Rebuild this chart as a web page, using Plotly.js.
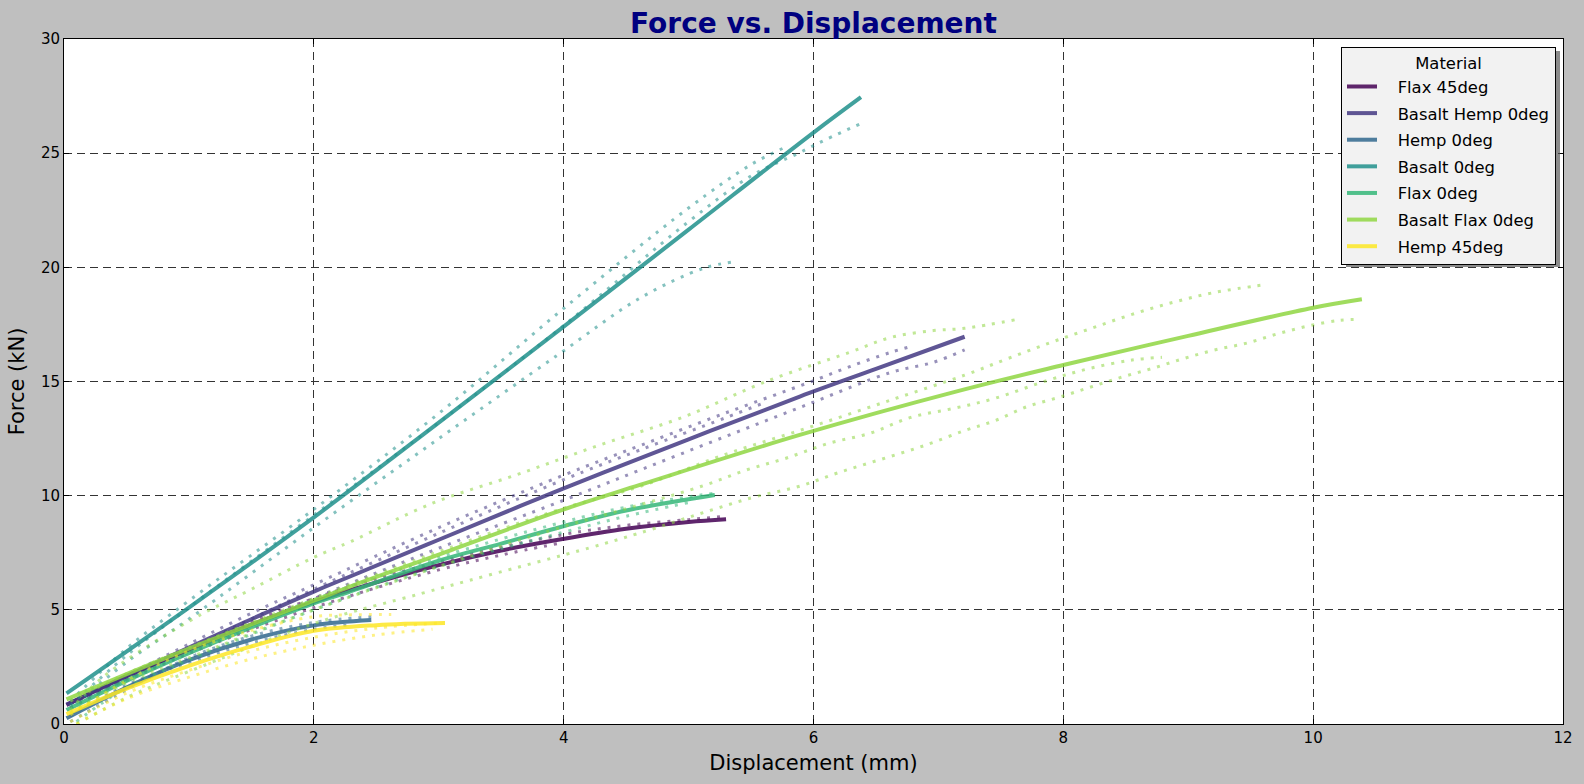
<!DOCTYPE html>
<html>
<head>
<meta charset="utf-8">
<script src="https://cdn.plot.ly/plotly-3.0.1.min.js"></script>
<style>
  html, body { margin: 0; padding: 0; background: #bfbfbf; }
  #plotly-chart { width: 1584px; height: 784px; }
</style>
</head>
<body>
<div id="plotly-chart"></div>
<script>
const materials = ['Flax 45deg', 'Basalt Hemp 0deg', 'Hemp 0deg', 'Basalt 0deg', 'Flax 0deg', 'Basalt Flax 0deg', 'Hemp 45deg'];
const colors = ['#440154', '#443983', '#31688e', '#21918c', '#35b779', '#90d743', '#fde725'];

// fitted curves (solid)
const flax45FitX = [0.02, 0.5, 1, 1.5, 2, 2.29, 3, 3.5, 3.99, 4.5, 5.0, 5.3];
const flax45FitY = [0.83, 2.1, 3.25, 4.35, 5.35, 5.86, 6.96, 7.6, 8.1, 8.55, 8.85, 8.97];
const basaltHempFitX = [0.02, 1, 2, 2.29, 3, 4, 5, 5.89, 6.5, 7.21];
const basaltHempFitY = [0.85, 3.35, 5.8, 6.46, 8.07, 10.32, 12.47, 14.34, 15.55, 16.96];
const hemp0FitX = [0.02, 0.5, 1, 1.5, 2, 2.46];
const hemp0FitY = [0.25, 1.6, 2.8, 3.7, 4.32, 4.55];
const basalt0FitX = [0.02, 1, 2, 3, 4, 5, 6, 6.38];
const basalt0FitY = [1.34, 5.1, 9.05, 13.2, 17.4, 21.65, 25.9, 27.45];
const flax0FitX = [0.02, 0.5, 1, 1.5, 2, 2.29, 3, 3.5, 3.99, 4.5, 5.21];
const flax0FitY = [0.61, 1.89, 3.1, 4.23, 5.28, 5.8, 7.15, 7.9, 8.65, 9.35, 10.03];
const basaltFlaxFitX = [0.02, 1, 2, 2.29, 3, 3.99, 4.61, 5.89, 7.17, 8, 9, 10, 10.39];
const basaltFlaxFitY = [1.08, 3.3, 5.4, 6.02, 7.42, 9.38, 10.47, 12.66, 14.6, 15.72, 17.0, 18.23, 18.6];
const hemp45FitX = [0.02, 0.5, 1, 1.5, 2, 2.5, 3.05];
const hemp45FitY = [0.43, 1.55, 2.55, 3.4, 4.08, 4.33, 4.42];

// raw specimen curves (dotted)
const flax45RawX = [
    [0.05, 1, 2, 3, 4, 4.5, 5, 5.3],
    [0.05, 1, 2, 3, 3.5, 3.95],
];
const flax45RawY = [
    [0.7, 3.3, 5.5, 7.1, 8.3, 8.7, 8.95, 9.1],
    [0.95, 3.1, 5.1, 6.75, 7.4, 7.9],
];
const basaltHempRawX = [
    [0.05, 0.5, 1, 1.5, 2, 3, 4, 4.61, 5.29, 5.96, 6.29, 6.62, 6.79],
    [0.05, 0.5, 1, 1.5, 2, 3, 4, 4.61, 5.29, 5.62],
    [0.05, 0.5, 1, 2, 3, 4, 4.61, 5.29, 5.96, 6.62, 6.96, 7.21],
];
const basaltHempRawY = [
    [0.7, 2.1, 3.5, 4.85, 6.1, 8.6, 10.9, 12.19, 13.61, 14.95, 15.65, 16.28, 16.55],
    [0.9, 2.0, 3.3, 4.6, 5.9, 8.35, 10.7, 12.0, 13.4, 14.1],
    [0.9, 1.9, 3.1, 5.5, 7.7, 9.8, 11.12, 12.58, 14.01, 15.4, 15.84, 16.38],
];
const hemp0RawX = [
    [0.05, 0.5, 1, 1.5, 2, 2.46],
    [0.05, 0.5, 1, 1.5, 2, 2.3],
];
const hemp0RawY = [
    [0.1, 1.5, 2.9, 3.85, 4.45, 4.7],
    [0.35, 1.7, 2.7, 3.55, 4.15, 4.35],
];
const basalt0RawX = [
    [0.05, 0.5, 1, 2, 3, 4, 5, 5.5, 5.79],
    [0.05, 0.5, 1, 2, 3, 4, 5, 5.5, 5.88, 6.1, 6.37],
    [0.1, 0.5, 1, 2, 3, 3.96, 4.61, 5.12, 5.37],
];
const basalt0RawY = [
    [1.0, 3.3, 5.4, 9.4, 13.6, 18.2, 22.6, 24.5, 25.3],
    [0.8, 3.0, 5.1, 9.15, 13.2, 17.45, 22.0, 24.0, 25.0, 25.6, 26.27],
    [0.9, 2.7, 4.6, 8.6, 12.5, 16.19, 18.65, 19.96, 20.25],
];
const flax0RawX = [
    [0.05, 0.5, 1, 2, 3, 4, 4.5, 5.0, 5.2],
    [0.1, 0.5, 1, 2, 3, 4, 4.5, 5.0],
];
const flax0RawY = [
    [0.45, 1.95, 3.15, 5.45, 7.3, 8.85, 9.5, 9.95, 10.1],
    [0.1, 1.6, 2.8, 5.0, 6.9, 8.4, 9.1, 9.7],
];
const basaltFlaxRawX = [
    [0.05, 0.3, 1, 1.5, 2, 2.3, 2.95, 3.62, 4.29, 4.96, 5.62, 6.29, 6.62, 6.96, 7.21, 7.63],
    [0.05, 0.5, 1, 2, 3, 4, 4.61, 5.29, 5.96, 6.62, 7.21, 7.54, 7.88, 8.21, 8.55, 8.88, 9.21, 9.63],
    [0.05, 0.5, 1, 2, 3, 4, 4.61, 5.12, 5.46, 5.78, 6.12, 6.45, 6.78, 7.12, 7.45, 7.88, 8.21, 8.55, 8.79],
    [0.1, 0.5, 1, 2, 2.87, 3.38, 4.21, 4.6, 5.2, 5.54, 5.88, 6.2, 6.54, 6.88, 7.21, 7.46, 7.71, 7.96, 8.21, 8.46, 8.71, 8.96, 9.21, 9.46, 9.71, 9.96, 10.21, 10.37],
];
const basaltFlaxRawY = [
    [0.6, 2.0, 4.5, 5.9, 7.3, 8.0, 9.67, 10.91, 12.22, 13.45, 15.0, 16.28, 16.93, 17.23, 17.33, 17.72],
    [1.0, 2.2, 3.35, 5.5, 7.55, 9.45, 10.4, 11.8, 12.98, 14.19, 15.28, 15.97, 16.67, 17.3, 17.94, 18.47, 18.9, 19.25],
    [0.5, 1.8, 2.9, 5.0, 6.9, 8.65, 9.6, 10.44, 11.12, 11.64, 12.29, 12.73, 13.43, 13.82, 14.26, 15.06, 15.57, 15.94, 16.06],
    [0.0, 1.15, 2.3, 4.4, 5.73, 6.49, 7.72, 8.35, 9.4, 9.96, 10.4, 11.01, 11.59, 12.18, 12.85, 13.3, 13.9, 14.3, 14.74, 15.18, 15.57, 16.0, 16.38, 16.67, 17.08, 17.43, 17.68, 17.72],
];
const hemp45RawX = [
    [0.05, 0.5, 1, 1.5, 2, 2.3, 2.62],
    [0.05, 0.5, 1, 1.5, 2, 2.5, 3.0],
    [0.1, 0.5, 1, 1.5, 2, 2.5, 2.95],
];
const hemp45RawY = [
    [0.4, 1.9, 3.2, 4.1, 4.7, 4.78, 4.8],
    [0.1, 1.35, 2.35, 3.2, 3.8, 4.2, 4.42],
    [0.0, 1.1, 2.05, 2.85, 3.45, 3.9, 4.15],
];

const fitX = [flax45FitX, basaltHempFitX, hemp0FitX, basalt0FitX, flax0FitX, basaltFlaxFitX, hemp45FitX];
const fitY = [flax45FitY, basaltHempFitY, hemp0FitY, basalt0FitY, flax0FitY, basaltFlaxFitY, hemp45FitY];
const rawX = [flax45RawX, basaltHempRawX, hemp0RawX, basalt0RawX, flax0RawX, basaltFlaxRawX, hemp45RawX];
const rawY = [flax45RawY, basaltHempRawY, hemp0RawY, basalt0RawY, flax0RawY, basaltFlaxRawY, hemp45RawY];

function drawChart() {
    const data = [];

    materials.forEach((name, m) => {
        rawX[m].forEach((xs, i) => {
            data.push({
                x: xs,
                y: rawY[m][i],
                type: 'scatter',
                mode: 'lines',
                legendgroup: name,
                showlegend: false,
                hoverinfo: 'skip',
                opacity: 0.55,
                line: { color: colors[m], width: 3, dash: '3px,7px', shape: 'spline', smoothing: 1 },
            });
        });
        data.push({
            x: fitX[m],
            y: fitY[m],
            type: 'scatter',
            mode: 'lines',
            // a little room between the legend line and its label, like the original
            name: '\u00a0\u00a0\u00a0' + name,
            legendgroup: name,
            opacity: 0.85,
            line: { color: colors[m], width: 4, shape: 'spline', smoothing: 1 },
        });
    });

    const axisStyle = {
        showline: true,
        linecolor: '#000',
        linewidth: 1,
        mirror: 'ticks',
        ticks: 'inside',
        ticklen: 5,
        tickcolor: '#000',
        showgrid: true,
        gridcolor: '#333',
        gridwidth: 1,
        griddash: '8px,5px',
        zeroline: false,
        tickfont: { size: 15, color: '#000' },
    };

    const layout = {
        width: 1584,
        height: 784,
        paper_bgcolor: '#bfbfbf',
        plot_bgcolor: '#ffffff',
        font: { family: 'DejaVu Sans, sans-serif', color: '#000' },
        margin: { t: 39, r: 21, b: 60, l: 64 },
        title: {
            text: '<b>Force vs. Displacement</b>',
            font: { size: 28, color: '#000080' },
            x: 0.5 + (64 - 21) / 2 / 1584,
            xanchor: 'center',
            y: 1 - 23 / 784,
            yanchor: 'middle',
            yref: 'container',
        },
        xaxis: Object.assign({}, axisStyle, {
            range: [0, 12],
            dtick: 2,
            tick0: 0,
            title: { text: 'Displacement (mm)', font: { size: 21 }, standoff: 9 },
        }),
        yaxis: Object.assign({}, axisStyle, {
            range: [0, 30],
            dtick: 5,
            tick0: 0,
            title: { text: 'Force (kN)', font: { size: 21 }, standoff: 10 },
        }),
        showlegend: true,
        legend: {
            x: 1 - 7 / 1499,
            xanchor: 'right',
            y: 1 - 8 / 685,
            yanchor: 'top',
            bgcolor: '#f2f2f2',
            bordercolor: '#000',
            borderwidth: 1,
            itemwidth: 30,
            font: { size: 16.4, color: '#000' },
            title: { text: 'Material', side: 'top center', font: { size: 16.4 } },
            traceorder: 'grouped',
            tracegroupgap: 2.3,
        },
        shapes: [{
            type: 'rect',
            xref: 'paper',
            yref: 'paper',
            x0: (1346 - 64) / 1499, x1: (1560 - 64) / 1499,
            y0: (724 - 267) / 685, y1: (724 - 51) / 685,
            fillcolor: 'rgba(90, 90, 90, 0.7)',
            line: { width: 0 },
            layer: 'above',
        }],
    };

    const config = { displayModeBar: false, responsive: false };

    Plotly.newPlot('plotly-chart', data, layout, config);
}

drawChart();
</script>
</body>
</html>
